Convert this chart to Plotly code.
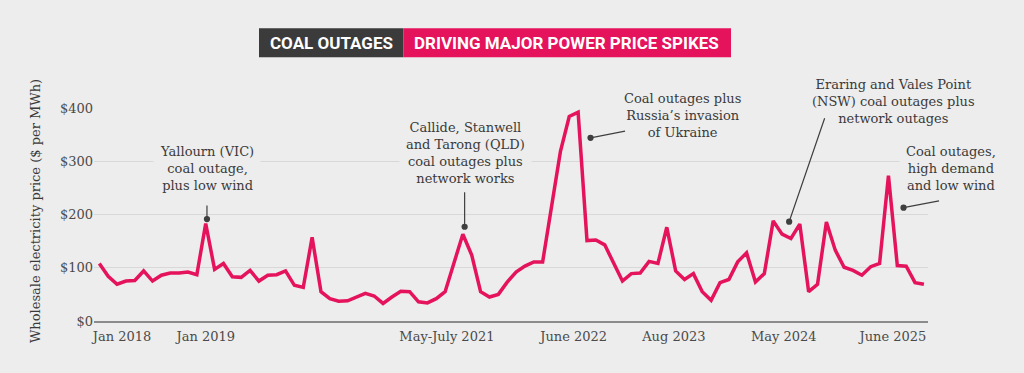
import numpy as np
import pandas as pd
import plotly.graph_objects as go

# ---- data (monthly wholesale price, $/MWh), Jan 2018 -> Oct 2025 ----
prices = [108, 84, 69, 75, 76, 94, 75, 86, 90, 90, 92, 87,
          183, 97, 108, 83, 82, 95, 75, 86, 87, 94, 67, 63,
          157, 55, 42, 37, 38, 45, 52, 47, 33, 45, 56, 55,
          36, 34, 42, 55, 110, 163, 124, 55, 45, 50, 73, 92,
          103, 111, 111, 216, 318, 384, 392, 151, 152, 143, 108, 75,
          89, 90, 112, 108, 176, 94, 78, 89, 55, 39, 72, 78,
          111, 128, 73, 89, 188, 163, 155, 182, 55, 69, 186, 133,
          101, 95, 86, 102, 108, 273, 104, 103, 72, 69]
months = pd.date_range("2018-01-01", periods=len(prices), freq="MS").strftime("%b %Y").tolist()
x_pos = list(range(len(prices)))

tick_labels = ["Jan 2018", "Jan 2019", "May-July 2021", "June 2022", "Aug 2023", "May 2024", "June 2025"]
tick_pos = [2.56, 12.0, 39.2, 53.5, 64.8, 77.2, 89.5]
y_ticks = [0, 100, 200, 300, 400]
y_labels = ["$0", "$100", "$200", "$300", "$400"]

PINK = "#E5135C"
DARK = "#3B3B3B"
BG = "#EDEDED"
TXT = "#3A3A3A"
SERIF = "DejaVu Serif"

L, R, T, B = 94, 96, 108, 52
W, H = 1024, 373


def px_x(px):
    return (px - L) / (W - L - R)


def px_y(py):
    return (H - B - py) / (H - B - T)


fig = go.Figure()
fig.add_trace(go.Scatter(
    x=x_pos, y=prices, mode="lines", customdata=months,
    line=dict(color=PINK, width=3.5), cliponaxis=False,
    hovertemplate="%{customdata}: $%{y}<extra></extra>"))

# annotation texts (pixel centres -> paper coords)
notes = [
    ("Yallourn (VIC)<br>coal outage,<br>plus low wind", 207, 168.7),
    ("Callide, Stanwell<br>and Tarong (QLD)<br>coal outages plus<br>network works", 465, 153),
    ("Coal outages plus<br>Russia\u2019s invasion<br>of Ukraine", 682.8, 115),
    ("Eraring and Vales Point<br>(NSW) coal outages plus<br>network outages", 893.7, 101),
    ("Coal outages,<br>high demand<br>and low wind", 951, 168.3),
]
annotations = []
for text, xx, yy in notes:
    annotations.append(dict(x=px_x(xx), y=px_y(yy), xref="paper", yref="paper", text=text,
                            showarrow=False,
                            font=dict(family=SERIF, size=13, color=TXT),
                            bgcolor=BG, borderpad=6, align="center",
                            xanchor="center", yanchor="middle"))

# pointers: (x, y at dot, ax, ay)
pointers = [(12.14, 191.5, 0, -15), (41.2, 177, 0, -36), (55.4, 344, 36, -7),
            (77.8, 186.5, 36, -105), (90.7, 212.8, 37, -7)]
for xx, yy, ax, ay in pointers:
    annotations.append(dict(x=xx, y=yy, xref="x", yref="y", text="", showarrow=True,
                            ax=ax, ay=ay, arrowhead=6, arrowsize=1.3, arrowwidth=1.2,
                            arrowcolor="#3F3F3F", standoff=0, startstandoff=0))

# title boxes
shapes = [
    dict(type="rect", xref="paper", yref="paper", x0=px_x(259), x1=px_x(403.5),
         y0=px_y(57.3), y1=px_y(28.3), fillcolor=DARK, line=dict(width=0), layer="above"),
    dict(type="rect", xref="paper", yref="paper", x0=px_x(403.5), x1=px_x(731),
         y0=px_y(57.3), y1=px_y(28.3), fillcolor=PINK, line=dict(width=0), layer="above"),
]
annotations.append(dict(x=px_x(331), y=px_y(43), xref="paper", yref="paper", text="<b>COAL OUTAGES</b>",
                        showarrow=False, font=dict(family="Roboto", size=17, color="white"),
                        xanchor="center", yanchor="middle"))
annotations.append(dict(x=px_x(566), y=px_y(43), xref="paper", yref="paper",
                        text="<b>DRIVING MAJOR POWER PRICE SPIKES</b>",
                        showarrow=False, font=dict(family="Roboto", size=17, color="white"),
                        xanchor="center", yanchor="middle"))
# y-axis title
annotations.append(dict(x=px_x(35), y=px_y(211), xref="paper", yref="paper",
                        text="Wholesale electricity price ($ per MWh)", textangle=-90,
                        showarrow=False, font=dict(family=SERIF, size=13, color=TXT),
                        xanchor="center", yanchor="middle"))

fig.update_layout(
    width=W, height=H,
    margin=dict(l=L, r=R, t=T, b=B),
    paper_bgcolor=BG, plot_bgcolor=BG,
    showlegend=False,
    xaxis=dict(range=[-0.6, 93.46], tickvals=tick_pos, ticktext=tick_labels,
               showgrid=False, zeroline=False, showline=True, linecolor="#8C8C8C", linewidth=1.5,
               ticks="", ticklabelstandoff=3,
               tickfont=dict(family=SERIF, size=13, color="#4A4A4A"), fixedrange=True),
    yaxis=dict(range=[0, 400], tickvals=y_ticks, ticktext=y_labels,
               showgrid=True, gridcolor="#D8D8D8", gridwidth=1, zeroline=False, showline=False,
               ticks="", tickfont=dict(family=SERIF, size=13, color="#4A4A4A"), fixedrange=True),
    annotations=annotations,
    shapes=shapes,
)

fig.write_html("out.html", config={"displayModeBar": False},
               post_script="document.body.style.margin='0';document.body.style.background='#EDEDED';")
